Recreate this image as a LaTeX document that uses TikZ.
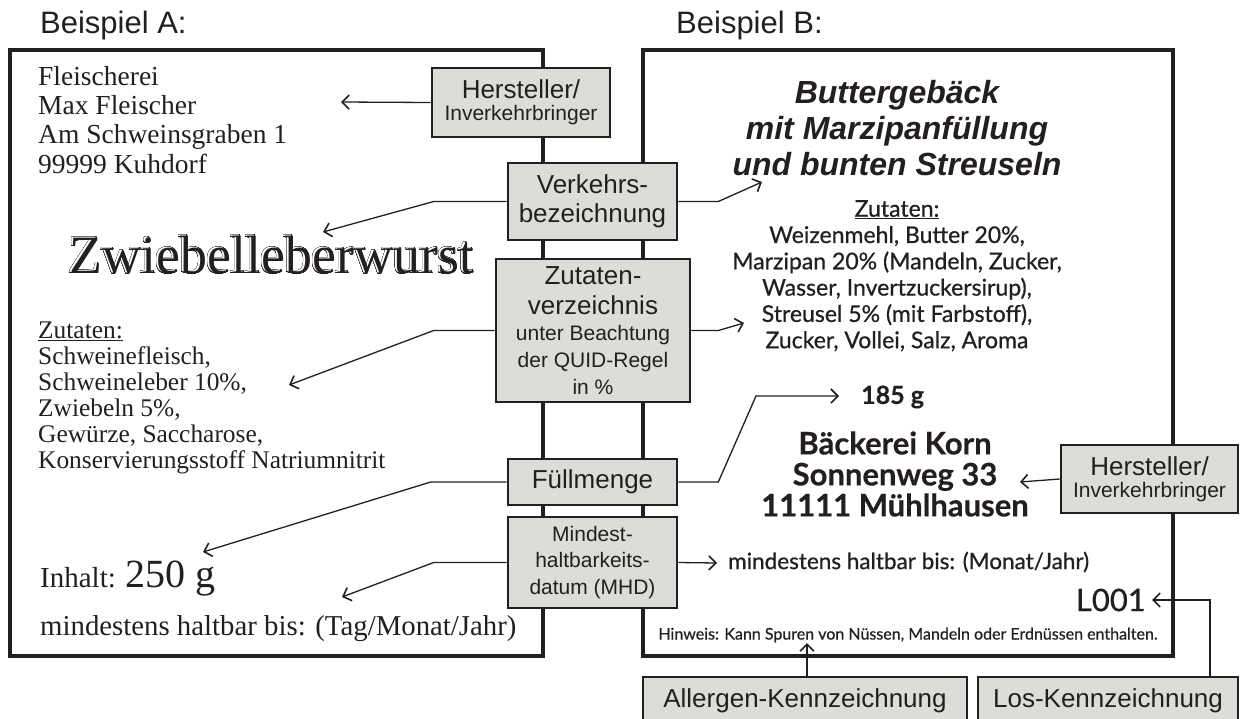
\documentclass[tikz,border=0pt]{standalone}
\usepackage{fontspec}
\usepackage{contour}
\usetikzlibrary{arrows.meta}
\setmainfont{Liberation Serif}
\newfontfamily\arialfont{Liberation Sans}
\newfontfamily\roundfont[FakeBold=0.7]{Lato}
\newfontfamily\roundbold[FakeBold=0.4]{Lato Bold}
\definecolor{ink}{HTML}{231F20}
\definecolor{boxgray}{HTML}{DCDDD8}
\contourlength{0.8pt}
\contournumber{36}
\newcommand{\engraved}[1]{\makebox[0pt][l]{\contour{ink}{\textcolor{white}{#1}}}\hspace*{1.3pt}\raisebox{-1pt}{\textcolor{ink}{#1}}}

\tikzset{
  labelbox/.style={draw=ink, fill=boxgray, line width=2.6pt, align=center,
    inner sep=0pt, text=ink, font=\arialfont\fontsize{26}{29}\selectfont},
  labelframe/.style={draw=ink, line width=4pt},
  pointer/.style={->, draw=ink, line width=1.3pt},
  serifA/.style={anchor=north west, align=left, inner sep=0pt, text=ink},
  roundB/.style={align=center, inner sep=0pt, text=ink},
}

\begin{document}
\begin{tikzpicture}[x=1pt, y=-1pt, >={Straight Barb[length=7pt,width=14pt,line width=1.6pt]}]
\useasboundingbox (0,0) rectangle (1240,718);
\clip (0,0) rectangle (1240,718);

% Headings
\node[anchor=west, inner sep=0pt, font=\arialfont\fontsize{31}{34}\selectfont, text=ink] (headA) at (40,25) {Beispiel A:};
\node[anchor=west, inner sep=0pt, font=\arialfont\fontsize{31}{34}\selectfont, text=ink] (headB) at (676,25) {Beispiel B:};

% Label frames
\draw[labelframe] (10,50) rectangle (543,656);
\draw[labelframe] (643,50) rectangle (1173,656);

% Example A (left label)
\node[serifA, font=\fontsize{27.5}{29.3}\selectfont] (addrA) at (38,66)
  {Fleischerei\\Max Fleischer\\Am Schweinsgraben 1\\99999 Kuhdorf};
\node[inner sep=0pt, font=\fontsize{54}{60}\selectfont] (nameA) at (271,255)
  {\engraved{Zwiebelleberwurst}};
\node[serifA, font=\fontsize{25.4}{26}\selectfont] (zutA) at (38,322)
  {\underline{Zutaten:}\\Schweinefleisch,\\Schweineleber 10\%,\\Zwiebeln 5\%,\\Gew\"urze, Saccharose,\\Konservierungsstoff Natriumnitrit};
\node[anchor=base west, inner sep=0pt, text=ink, font=\fontsize{29}{30}\selectfont] (mengeA) at (40,587)
  {Inhalt: {\fontsize{40}{42}\selectfont 250 g}};
\node[anchor=base west, inner sep=0pt, text=ink, font=\fontsize{28.8}{30}\selectfont] (mhdA) at (40,635)
  {mindestens haltbar bis: (Tag/Monat/Jahr)};

% Example B (right label)
\node[roundB, font=\arialfont\bfseries\itshape\fontsize{32}{36}\selectfont] (nameB) at (897,128)
  {Buttergeb\"ack\\mit Marzipanf\"ullung\\und bunten Streuseln};
\node[roundB, anchor=north, font=\roundfont\fontsize{23}{26.3}\selectfont] (zutB) at (897,200)
  {\underline{Zutaten:}\\Weizenmehl, Butter 20\%,\\Marzipan 20\% (Mandeln, Zucker,\\Wasser, Invertzuckersirup),\\Streusel 5\% (mit Farbstoff),\\Zucker, Vollei, Salz, Aroma};
\node[roundB, anchor=west, font=\roundbold\fontsize{25}{26}\selectfont] (mengeB) at (861,397) {185 g};
\node[roundB, font=\roundbold\fontsize{31}{31}\selectfont] (herstTextB) at (895,474)
  {B\"ackerei Korn\\Sonnenweg 33\\11111 M\"uhlhausen};
\node[roundB, anchor=west, font=\roundfont\fontsize{22.5}{24}\selectfont] (mhdB) at (728,562)
  {mindestens haltbar bis: (Monat/Jahr)};
\node[roundB, anchor=east, font=\roundfont\fontsize{31}{32}\selectfont] (losB) at (1146,600) {L001};
\node[roundB, font=\roundfont\fontsize{16}{18}\selectfont] (hinweisB) at (908,635)
  {Hinweis: Kann Spuren von N\"ussen, Mandeln oder Erdn\"ussen enthalten.};

% Middle column of grey boxes
\node[labelbox, minimum width=178pt, minimum height=69pt] (herstA) at (521,102.5)
  {Hersteller/\\[-7pt]{\fontsize{21}{24}\selectfont Inverkehrbringer}};
\node[labelbox, minimum width=169pt, minimum height=77pt] (verk) at (592.5,201.5)
  {Verkehrs-\\bezeichnung};
\node[labelbox, minimum width=194pt, minimum height=143pt] (zutat) at (593,330.5)
  {Zutaten-\\[1pt]verzeichnis\\[-3pt]{\fontsize{21}{24}\selectfont unter Beachtung}\\[-2pt]{\fontsize{21}{24}\selectfont der QUID-Regel}\\[-2pt]{\fontsize{21}{24}\selectfont in \%}};
\node[labelbox, minimum width=169pt, minimum height=46pt] (fuell) at (592.5,482) {F\"ullmenge};
\node[labelbox, minimum width=169pt, minimum height=91pt, font=\arialfont\fontsize{21}{24}\selectfont] (mhd) at (592.5,562.5)
  {Mindest-\\[2.5pt]haltbarkeits-\\[2.5pt]datum (MHD)};

% Boxes on the right and below
\node[labelbox, minimum width=177pt, minimum height=68pt] (herstB) at (1149.5,479)
  {Hersteller/\\[-7pt]{\fontsize{21}{24}\selectfont Inverkehrbringer}};
\node[labelbox, minimum width=324pt, minimum height=48pt] (allerg) at (805,701) {Allergen-Kennzeichnung};
\node[labelbox, minimum width=260pt, minimum height=48pt] (los) at (1108,701) {Los-Kennzeichnung};

% Arrow tips
\coordinate (tA1) at (341,102);
\coordinate (tA2) at (323,232);
\coordinate (tA3) at (289,385);
\coordinate (tA4) at (203,552);
\coordinate (tA5) at (342,597);
\coordinate (tB1) at (762,182);
\coordinate (tB2) at (744,323);
\coordinate (tB3) at (839,396);
\coordinate (tB4) at (717,563);
\coordinate (tB5) at (1020,482);
\coordinate (tB6) at (1152,600);
\coordinate (tB7) at (807,643);

% Arrows to the left label
\draw[pointer] (herstA.west) -- (tA1);
\draw[pointer] (verk.west) -- ++(-73,0) -- (tA2);
\draw[pointer] (zutat.west) -- ++(-61,0) -- (tA3);
\draw[pointer] (fuell.west) -- ++(-76,0) -- (tA4);
\draw[pointer] (mhd.west) -- ++(-73,0) -- (tA5);

% Arrows to the right label
\draw[pointer] (verk.east) -- ++(40,0) -- (tB1);
\draw[pointer] (zutat.east) -- ++(27,0) -- (tB2);
\draw[pointer] (fuell.east) -- ++(40,0) -- (756,396) -- (tB3);
\draw[pointer] (mhd.east) -- (tB4);
\draw[pointer] (herstB.west) -- (tB5);
\draw[pointer] (los.north -| 1210,0) |- (tB6);
\draw[pointer] (allerg.north -| tB7) -- (tB7);

\end{tikzpicture}
\end{document}
